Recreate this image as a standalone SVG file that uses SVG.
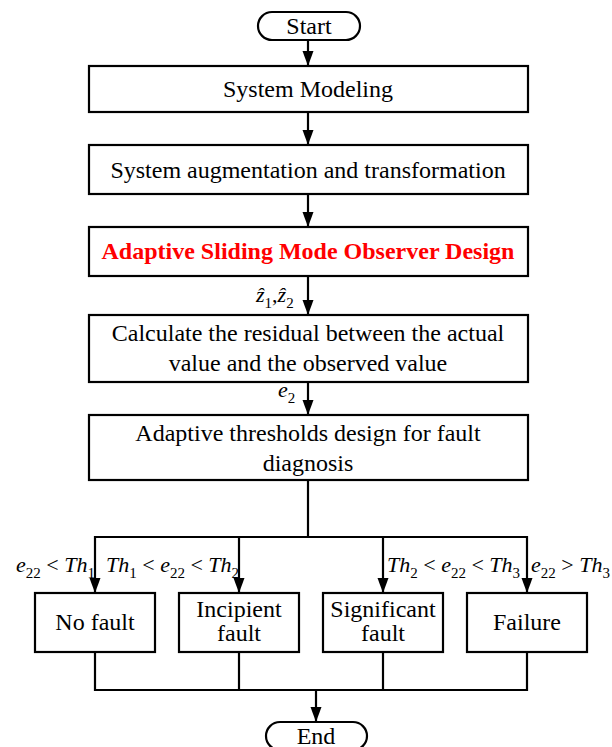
<svg xmlns="http://www.w3.org/2000/svg" width="612" height="747" viewBox="0 0 612 747" font-family="'Liberation Serif', 'DejaVu Serif', serif">
  <style>
    .box { fill: #fff; stroke: #000; stroke-width: 2.2; }
    .txt { font-family: 'Liberation Serif', 'DejaVu Serif', serif; font-size: 24px; fill: #000; text-anchor: middle; }
    .red { font-weight: bold; fill: #ff0000; }
    .wire { fill: none; stroke: #000; stroke-width: 2.2; }
    .math { font-family: 'Liberation Serif', 'DejaVu Serif', serif; font-size: 22px; fill: #000; }
    .it { font-style: italic; }
    .sub { font-size: 15px; }
  </style>
  <defs>
    <marker id="arrow" markerUnits="userSpaceOnUse" markerWidth="16" markerHeight="12" refX="15" refY="6" orient="auto" viewBox="0 0 16 12">
      <path d="M0,0.5 L15,6 L0,11.5 Z" fill="#000"/>
    </marker>
  </defs>

  <!-- connectors -->
  <g id="connectors">
    <line class="wire" x1="308" y1="40" x2="308" y2="66" marker-end="url(#arrow)"/>
    <line class="wire" x1="308" y1="112" x2="308" y2="145" marker-end="url(#arrow)"/>
    <line class="wire" x1="308" y1="194" x2="308" y2="227" marker-end="url(#arrow)"/>
    <line class="wire" x1="308" y1="276" x2="308" y2="315" marker-end="url(#arrow)"/>
    <line class="wire" x1="308" y1="382" x2="308" y2="415" marker-end="url(#arrow)"/>
    <polyline class="wire" points="308,480 308,537"/>
    <line class="wire" x1="95" y1="537" x2="528" y2="537"/>
    <line class="wire" x1="95" y1="536" x2="95" y2="593" marker-end="url(#arrow)"/>
    <line class="wire" x1="239" y1="537" x2="239" y2="593" marker-end="url(#arrow)"/>
    <line class="wire" x1="383" y1="537" x2="383" y2="593" marker-end="url(#arrow)"/>
    <line class="wire" x1="527" y1="536" x2="527" y2="593" marker-end="url(#arrow)"/>
    <polyline class="wire" points="95,652 95,690 527,690 527,652"/>
    <line class="wire" x1="239" y1="652" x2="239" y2="690"/>
    <line class="wire" x1="383" y1="652" x2="383" y2="690"/>
    <line class="wire" x1="316" y1="690" x2="316" y2="722" marker-end="url(#arrow)"/>

    <!-- edge labels -->
    <text class="math" x="256" y="302"><tspan class="it">ẑ</tspan><tspan class="sub" dy="6">1</tspan><tspan dy="-6">,</tspan><tspan class="it">ẑ</tspan><tspan class="sub" dy="6">2</tspan></text>
    <text class="math" x="278" y="397"><tspan class="it">e</tspan><tspan class="sub" dy="6">2</tspan></text>
    <text class="math" x="16" y="572"><tspan class="it">e</tspan><tspan class="sub" dy="6">22</tspan><tspan dy="-6"> &lt; </tspan><tspan class="it">Th</tspan><tspan class="sub" dy="6">1</tspan></text>
    <text class="math" x="106" y="572"><tspan class="it">Th</tspan><tspan class="sub" dy="6">1</tspan><tspan dy="-6"> &lt; </tspan><tspan class="it">e</tspan><tspan class="sub" dy="6">22</tspan><tspan dy="-6"> &lt; </tspan><tspan class="it">Th</tspan><tspan class="sub" dy="6">2</tspan></text>
    <text class="math" x="387" y="572"><tspan class="it">Th</tspan><tspan class="sub" dy="6">2</tspan><tspan dy="-6"> &lt; </tspan><tspan class="it">e</tspan><tspan class="sub" dy="6">22</tspan><tspan dy="-6"> &lt; </tspan><tspan class="it">Th</tspan><tspan class="sub" dy="6">3</tspan></text>
    <text class="math" x="531" y="572"><tspan class="it">e</tspan><tspan class="sub" dy="6">22</tspan><tspan dy="-6"> &gt; </tspan><tspan class="it">Th</tspan><tspan class="sub" dy="6">3</tspan></text>
  </g>

  <g id="start">
    <rect class="box" x="258" y="12" width="102" height="28" rx="14" ry="14"/>
    <text class="txt" x="309" y="34">Start</text>
  </g>

  <g id="system-modeling">
    <rect class="box" x="89" y="66" width="439" height="46"/>
    <text class="txt" x="308" y="97">System Modeling</text>
  </g>

  <g id="augmentation">
    <rect class="box" x="89" y="145" width="439" height="49"/>
    <text class="txt" x="308" y="178">System augmentation and transformation</text>
  </g>

  <g id="observer-design">
    <rect class="box" x="89" y="227" width="439" height="49"/>
    <text class="txt red" x="308" y="259">Adaptive Sliding Mode Observer Design</text>
  </g>

  <g id="residual">
    <rect class="box" x="89" y="315" width="439" height="67"/>
    <text class="txt" x="308" y="341">Calculate the residual between the actual</text>
    <text class="txt" x="308" y="371">value and the observed value</text>
  </g>

  <g id="thresholds">
    <rect class="box" x="89" y="415" width="439" height="65"/>
    <text class="txt" x="308" y="441">Adaptive thresholds design for fault</text>
    <text class="txt" x="308" y="471">diagnosis</text>
  </g>

  <g id="no-fault">
    <rect class="box" x="35" y="593" width="120" height="59"/>
    <text class="txt" x="95" y="630">No fault</text>
  </g>

  <g id="incipient-fault">
    <rect class="box" x="179" y="593" width="120" height="59"/>
    <text class="txt" x="239" y="617">Incipient</text>
    <text class="txt" x="239" y="641">fault</text>
  </g>

  <g id="significant-fault">
    <rect class="box" x="323" y="593" width="120" height="59"/>
    <text class="txt" x="383" y="617">Significant</text>
    <text class="txt" x="383" y="641">fault</text>
  </g>

  <g id="failure">
    <rect class="box" x="467" y="593" width="120" height="59"/>
    <text class="txt" x="527" y="630">Failure</text>
  </g>

  <g id="end">
    <rect class="box" x="266" y="722" width="101" height="28" rx="14" ry="14"/>
    <text class="txt" x="316" y="744">End</text>
  </g>
</svg>
